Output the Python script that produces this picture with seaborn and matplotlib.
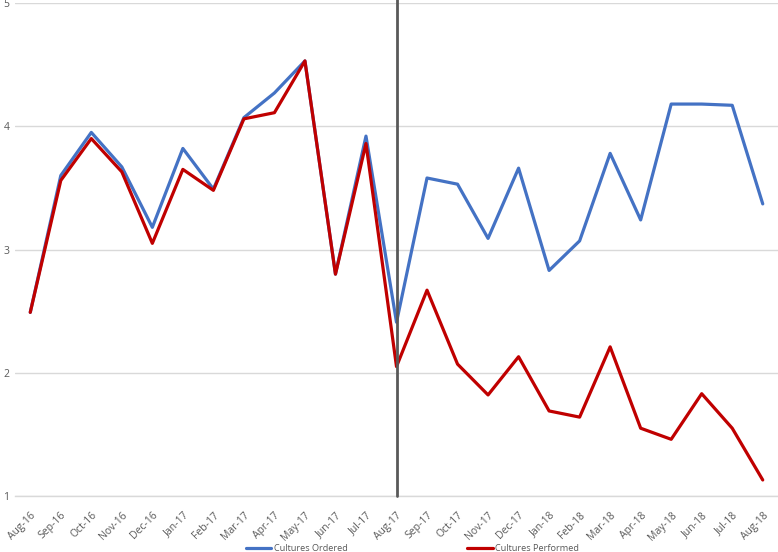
import matplotlib
matplotlib.use("Agg")
import matplotlib.pyplot as plt
import numpy as np
import pandas as pd
import seaborn as sns

months = ["Aug-16", "Sep-16", "Oct-16", "Nov-16", "Dec-16", "Jan-17", "Feb-17",
          "Mar-17", "Apr-17", "May-17", "Jun-17", "Jul-17", "Aug-17", "Sep-17",
          "Oct-17", "Nov-17", "Dec-17", "Jan-18", "Feb-18", "Mar-18", "Apr-18",
          "May-18", "Jun-18", "Jul-18", "Aug-18"]
ordered = [2.49, 3.60, 3.95, 3.67, 3.18, 3.82, 3.49, 4.07, 4.27, 4.53, 2.80, 3.92,
           2.41, 3.58, 3.53, 3.09, 3.66, 2.83, 3.07, 3.78, 3.24, 4.18, 4.18, 4.17, 3.37]
performed = [2.49, 3.56, 3.90, 3.63, 3.05, 3.65, 3.48, 4.06, 4.11, 4.53, 2.80, 3.86,
             2.05, 2.67, 2.07, 1.82, 2.13, 1.69, 1.64, 2.21, 1.55, 1.46, 1.83, 1.55, 1.13]
series = ["Cultures Ordered", "Cultures Performed"]
colors = ["#4472C4", "#C00000"]
divider_month = "Aug-17"

df = pd.DataFrame({
    "idx": list(range(len(months))) * 2,
    "value": ordered + performed,
    "series": [series[0]] * len(months) + [series[1]] * len(months),
})

sns.set_style("white")
plt.rcParams["font.family"] = ["Open Sans", "DejaVu Sans"]

fig = plt.figure(figsize=(7.78, 5.52), dpi=100)
ax = fig.add_axes([15 / 778, 1 - 496 / 552, 1 - 15 / 778, (496 - 3) / 552])

sns.lineplot(data=df, x="idx", y="value", hue="series", palette=colors,
             linewidth=2.3, ax=ax, legend=False)

# vertical marker at the intervention month
ax.axvline(months.index(divider_month), color="#595959", linewidth=2.0,
           ymin=0, ymax=1.01, clip_on=False, zorder=5)

ax.set_xlim(-0.5, len(months) - 0.5)
ax.set_ylim(1, 5)
ax.set_yticks([1, 2, 3, 4, 5])
ax.grid(axis="y", color="#d9d9d9", linewidth=1.0)
ax.grid(axis="x", visible=False)
for s in ["top", "left", "right"]:
    ax.spines[s].set_visible(False)
ax.spines["bottom"].set_color("#d9d9d9")
ax.spines["bottom"].set_linewidth(1.0)

ax.set_xticks(range(len(months)))
ax.set_xticklabels(months, rotation=45, ha="right", rotation_mode="anchor",
                   fontsize=7.5, color="#595959")
ax.set_xticks(np.arange(-0.5, len(months), 1), minor=True)
ax.tick_params(axis="x", which="major", length=0, pad=10)
ax.tick_params(axis="x", which="minor", length=4, color="#d9d9d9", width=1.0)
ax.tick_params(axis="y", length=0, pad=4, labelsize=7.5, labelcolor="#595959")
ax.set_xlabel("")
ax.set_ylabel("")

handles = [plt.Line2D([0], [0], color=c, linewidth=2.3) for c in colors]
fig.legend(handles, series, loc="center", bbox_to_anchor=(0.53, 0.006), ncol=2,
           frameon=False, fontsize=6.6, handlelength=2.8, handletextpad=0.3,
           columnspacing=13, labelcolor="#595959")

fig.savefig("out.png", dpi=100)
